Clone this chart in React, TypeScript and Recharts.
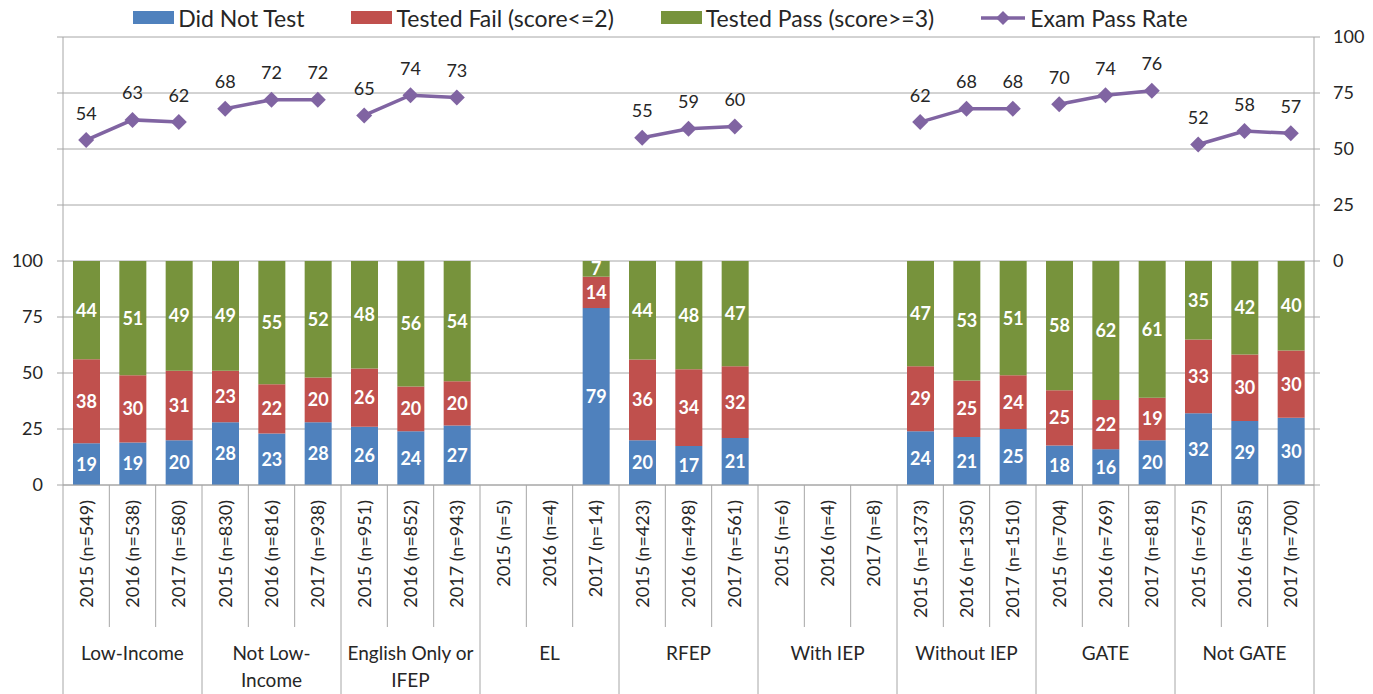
import React from 'react';
import { ComposedChart, Bar, Line, XAxis, YAxis, CartesianGrid, Legend, LabelList } from 'recharts';

// groups of three school years, label lines as shown under the axis
const groups = [
  ['Low-Income'],
  ['Not Low-', 'Income'],
  ['English Only or', 'IFEP'],
  ['EL'],
  ['RFEP'],
  ['With IEP'],
  ['Without IEP'],
  ['GATE'],
  ['Not GATE'],
];
const years = ['2015', '2016', '2017'];
const nCounts = [549, 538, 580, 830, 816, 938, 951, 852, 943, 5, 4, 14, 423, 498, 561, 6, 4, 8, 1373, 1350, 1510, 704, 769, 818, 675, 585, 700];

// percent of students (labels are rounded)
const didNotTest = [18.6, 19, 20, 28, 23, 28, 26, 24, 26.6, null, null, 79, 20, 17.4, 21, null, null, null, 24, 21.4, 25, 17.6, 16, 20, 32, 28.6, 30];
const testedFail = [37.5, 30, 31, 23, 22, 20, 26, 20, 19.7, null, null, 14, 36, 34.3, 32, null, null, null, 29, 25.3, 24, 24.7, 22, 19, 33, 29.7, 30];
const testedPass = [43.9, 51, 49, 49, 55, 52, 48, 56, 53.7, null, null, 7, 44, 48.3, 47, null, null, null, 47, 53.3, 51, 57.7, 62, 61, 35, 41.7, 40];
const passRate = [54, 63, 62, 68, 72, 72, 65, 74, 73, null, null, null, 55, 59, 60, null, null, null, 62, 68, 68, 70, 74, 76, 52, 58, 57];

const leftTicks = [0, 25, 50, 75, 100, 125, 150, 175, 200];
const rightTicks = [-100, -75, -50, -25, 0, 25, 50, 75, 100];

const BLUE = '#4F81BD';
const RED = '#C0504D';
const GREEN = '#77933C';
const PURPLE = '#8064A2';
const GRID = '#A6A6A6';
const TEXT = '#262626';
const FONT = 'Lato, "Open Sans", sans-serif';

const W = 1373;
const H = 694;
const LEFT_W = 63;
const RIGHT_W = 59;
const BAND = (W - LEFT_W - RIGHT_W) / nCounts.length;

const rows = nCounts.map((n, i) => {
  const g = Math.floor(i / 3);
  const row: any = {
    label: `${years[i % 3]} (n=${n})`,
    dnt: didNotTest[i],
    fail: testedFail[i],
    pass: testedPass[i],
  };
  row['rate' + g] = passRate[i];
  return row;
});

const legendItems = [
  { name: 'Did Not Test', color: BLUE, line: false },
  { name: 'Tested Fail (score<=2)', color: RED, line: false },
  { name: 'Tested Pass (score>=3)', color: GREEN, line: false },
  { name: 'Exam Pass Rate', color: PURPLE, line: true },
];

const renderLegend = () => (
  <div
    style={{
      height: 37,
      display: 'flex',
      justifyContent: 'center',
      alignItems: 'center',
      gap: 47,
      paddingRight: 52,
      paddingBottom: 2,
      boxSizing: 'border-box',
      fontFamily: FONT,
      fontSize: 23,
      color: TEXT,
    }}
  >
    {legendItems.map((it) => (
      <div key={it.name} style={{ display: 'flex', alignItems: 'center' }}>
        {it.line ? (
          <svg width={44} height={16} style={{ marginRight: 5 }}>
            <line x1={0} x2={44} y1={8} y2={8} stroke={it.color} strokeWidth={3.5} />
            <path d="M22,1L29,8L22,15L15,8Z" fill={it.color} />
          </svg>
        ) : (
          <span style={{ display: 'inline-block', width: 41, height: 13, background: it.color, marginRight: 4 }} />
        )}
        <span>{it.name}</span>
      </div>
    ))}
  </div>
);

const barLabel = (props: any) => {
  const { x, y, width, height, value } = props;
  if (value == null) return null;
  return (
    <text
      x={x + width / 2}
      y={y + height / 2}
      dy="0.36em"
      textAnchor="middle"
      fill="#fff"
      fontWeight="bold"
      fontSize={18}
      fontFamily={FONT}
    >
      {Math.round(value)}
    </text>
  );
};

const rateLabel = (props: any) => {
  const { x, y, value } = props;
  if (value == null || x == null || y == null) return null;
  return (
    <text x={x} y={y - 27} dy="0.36em" textAnchor="middle" fill={TEXT} fontSize={18} fontFamily={FONT}>
      {value}
    </text>
  );
};

const diamond = (props: any) => {
  const { cx, cy, key, value } = props;
  if (value == null || cx == null || cy == null) return <g key={key} />;
  return <path key={key} d={`M${cx},${cy - 8}L${cx + 8},${cy}L${cx},${cy + 8}L${cx - 8},${cy}Z`} fill={PURPLE} />;
};

const CategoryTick = (props: any) => {
  const { x, y, payload } = props;
  const i = payload.index;
  const half = BAND / 2;
  const groupEnd = i % 3 === 2;
  const lines = groups[Math.floor(i / 3)];
  return (
    <g>
      {i === 0 && <line x1={x - half} x2={x - half} y1={y} y2={H} stroke={GRID} />}
      <line x1={x + half} x2={x + half} y1={y} y2={groupEnd ? H : y + 142} stroke={GRID} />
      <text
        x={x}
        y={y + 15}
        dy="0.36em"
        transform={`rotate(-90, ${x}, ${y + 15})`}
        textAnchor="end"
        fill={TEXT}
        fontSize={18}
        fontFamily={FONT}
      >
        {payload.value}
      </text>
      {i % 3 === 1 &&
        lines.map((t, k) => (
          <text
            key={k}
            x={x}
            y={y + 168 + k * 27}
            dy="0.36em"
            textAnchor="middle"
            fill={TEXT}
            fontSize={19}
            fontFamily={FONT}
          >
            {t}
          </text>
        ))}
    </g>
  );
};

const axisTick = { fill: TEXT, fontSize: 18, fontFamily: FONT };

export default function App() {
  return (
    <div style={{ marginLeft: -8, marginTop: -8, position: 'relative', width: W, height: H, fontFamily: FONT }}>
      <div style={{ position: 'absolute', left: 7, top: 0, width: 1, height: H, background: '#D9D9D9' }} />
      <ComposedChart width={W} height={H} data={rows} margin={{ top: 0, right: 0, bottom: 0, left: 0 }}>
        <CartesianGrid yAxisId="left" vertical={false} stroke={GRID} />
        <XAxis
          dataKey="label"
          height={H - 485}
          interval={0}
          tickLine={false}
          tickSize={0}
          tickMargin={0}
          axisLine={{ stroke: GRID }}
          tick={<CategoryTick />}
        />
        <YAxis
          yAxisId="left"
          width={LEFT_W}
          domain={[0, 200]}
          ticks={leftTicks}
          interval={0}
          tickSize={6}
          tickMargin={14}
          axisLine={{ stroke: GRID }}
          tickLine={{ stroke: GRID }}
          tick={axisTick}
          tickFormatter={(v: number) => (v <= 100 ? String(v) : '')}
        />
        <YAxis
          yAxisId="right"
          orientation="right"
          width={RIGHT_W}
          domain={[-100, 100]}
          ticks={rightTicks}
          interval={0}
          tickSize={6}
          tickMargin={13}
          axisLine={{ stroke: GRID }}
          tickLine={{ stroke: GRID }}
          tick={axisTick}
          tickFormatter={(v: number) => (v >= 0 ? String(v) : '')}
        />
        <Legend verticalAlign="top" content={renderLegend} />
        <Bar yAxisId="left" dataKey="dnt" stackId="s" fill={BLUE} barSize={27} isAnimationActive={false}>
          <LabelList dataKey="dnt" content={barLabel} />
        </Bar>
        <Bar yAxisId="left" dataKey="fail" stackId="s" fill={RED} barSize={27} isAnimationActive={false}>
          <LabelList dataKey="fail" content={barLabel} />
        </Bar>
        <Bar yAxisId="left" dataKey="pass" stackId="s" fill={GREEN} barSize={27} isAnimationActive={false}>
          <LabelList dataKey="pass" content={barLabel} />
        </Bar>
        {groups.map((_, g) => (
          <Line
            key={g}
            yAxisId="right"
            dataKey={'rate' + g}
            stroke={PURPLE}
            strokeWidth={3.5}
            dot={diamond}
            activeDot={false}
            legendType="none"
            isAnimationActive={false}
          >
            <LabelList dataKey={'rate' + g} content={rateLabel} />
          </Line>
        ))}
      </ComposedChart>
    </div>
  );
}
